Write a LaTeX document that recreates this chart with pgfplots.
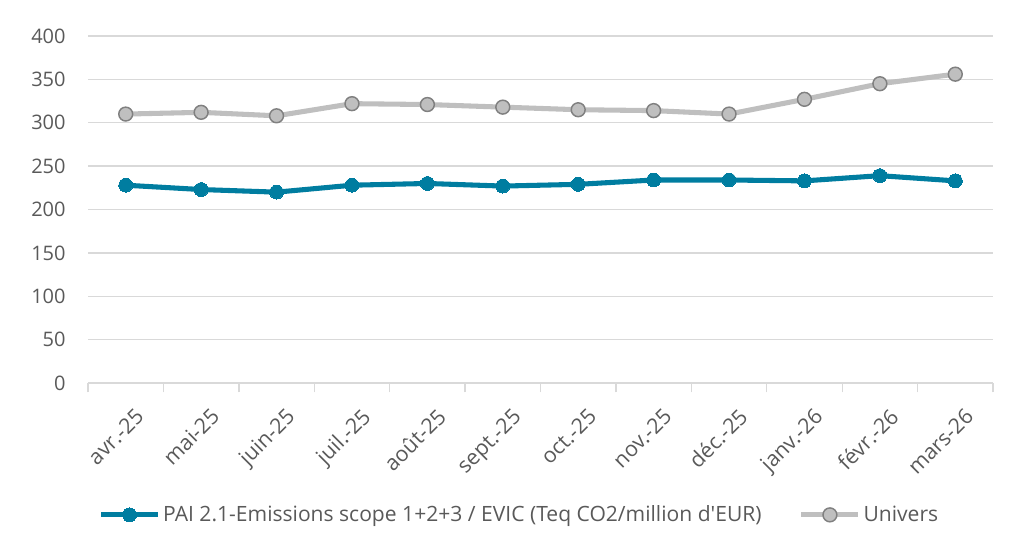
\documentclass[border=0pt]{standalone}
\usepackage{pgfplots}
\pgfplotsset{compat=1.18}
\usepackage{fontspec}
\setmainfont{Open Sans}
\definecolor{paiblue}{RGB}{0,125,160}
\definecolor{univgray}{RGB}{191,191,191}
\definecolor{univedge}{RGB}{128,128,128}
\definecolor{gridgray}{RGB}{217,217,217}
\definecolor{labelgray}{RGB}{89,89,89}

\begin{document}
\begin{tikzpicture}
\useasboundingbox (0pt,0pt) rectangle (760.5pt,409.5pt);
\begin{axis}[
    at={(66pt,122.25pt)}, anchor=south west,
    scale only axis,
    width=678.75pt, height=260.25pt,
    xmin=-0.5, xmax=11.5,
    ymin=0, ymax=400,
    ytick={0,50,...,400},
    xtick={0,...,11},
    xticklabels={avr.-25,mai-25,juin-25,juil.-25,août-25,sept.-25,oct.-25,nov.-25,déc.-25,janv.-26,févr.-26,mars-26},
    minor xtick={-0.5,0.5,...,11.5},
    major x tick style={draw=none},
    minor x tick style={draw=gridgray, line width=1pt},
    minor tick length=7pt,
    tick align=outside,
    xtick pos=bottom,
    ytick style={draw=none},
    axis x line*=bottom,
    axis y line*=left,
    x axis line style={draw=gridgray, line width=1pt, -},
    y axis line style={draw=none},
    ymajorgrids,
    grid style={draw=gridgray, line width=1pt},
    tick label style={font=\fontsize{15}{18}\selectfont, text=labelgray},
    /pgf/number format/assume math mode=true,
    yticklabel style={anchor=east, xshift=-9pt},
    xticklabel style={font=\fontsize{16}{18}\selectfont, rotate=45, anchor=north east,
        inner sep=1pt, xshift=-4pt, yshift=-13pt},
    legend style={
        at={(0.477,-0.38)}, anchor=center,
        draw=none, fill=none,
        legend columns=2,
        font=\fontsize{15.8}{18}\selectfont,
        text=labelgray,
        /tikz/every even column/.append style={column sep=26pt},
    },
    legend image code/.code={
        \draw[mark repeat=2, mark phase=2] plot coordinates {(0cm,0cm) (0.75cm,0cm) (1.5cm,0cm)};
    },
]
\addplot[color=paiblue, line width=3.8pt, mark=*, mark size=5.2pt,
    mark options={fill=paiblue, draw=paiblue, line width=0pt}]
coordinates {
    (0,228) (1,223) (2,220) (3,228) (4,230) (5,227)
    (6,229) (7,234) (8,234) (9,233) (10,239) (11,233)
};
\addlegendentry{PAI 2.1-Emissions scope 1+2+3 / EVIC (Teq CO2/million d\textquotesingle EUR)}
\addplot[color=univgray, line width=3.8pt, mark=*, mark size=5.2pt,
    mark options={fill=univgray, draw=univedge, line width=1.1pt}]
coordinates {
    (0,310) (1,312) (2,308) (3,322) (4,321) (5,318)
    (6,315) (7,314) (8,310) (9,327) (10,345) (11,356)
};
\addlegendentry{Univers}
\end{axis}
\end{tikzpicture}
\end{document}
